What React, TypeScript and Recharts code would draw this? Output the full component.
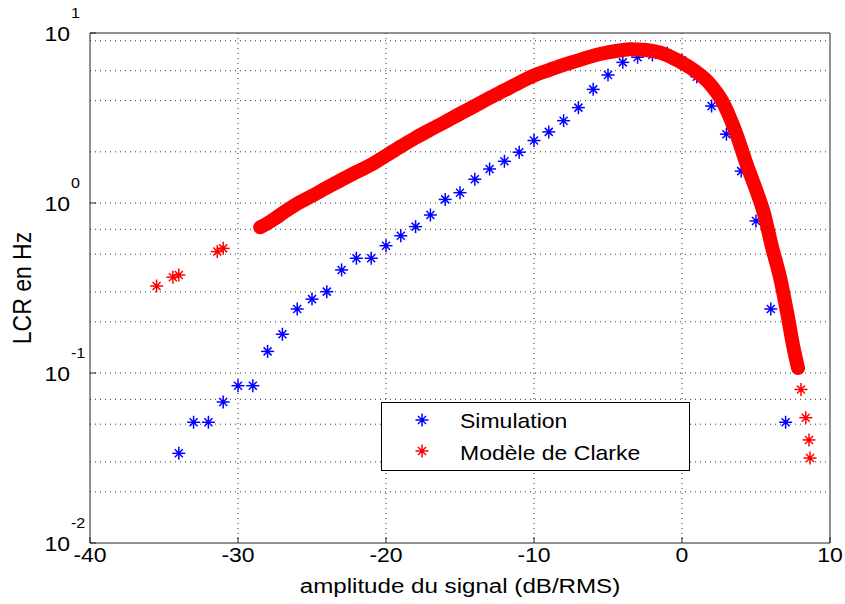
import React from 'react';
import { CartesianGrid, Scatter, ScatterChart, XAxis, YAxis, Label } from 'recharts';

// Simulation (blue stars), one point per dB step
const simulationX = [
  -34, -33, -32, -31, -30, -29, -28, -27, -26, -25, -24, -23, -22, -21, -20, -19, -18, -17, -16, -15, -14,
  -13, -12, -11, -10, -9, -8, -7, -6, -5, -4, -3, -2, -1, 0, 1, 2, 3, 4, 5, 6, 7,
];
const simulationY = [
  0.0337, 0.0513, 0.0513, 0.0675, 0.0842, 0.0842, 0.134, 0.169, 0.238, 0.272, 0.301, 0.404, 0.473, 0.473,
  0.561, 0.642, 0.726, 0.85, 1.05, 1.15, 1.38, 1.585, 1.76, 1.99, 2.33, 2.62, 3.05, 3.64, 4.66, 5.66, 6.72,
  7.2, 7.42, 7.6, 6.9, 5.53, 3.72, 2.54, 1.54, 0.784, 0.238, 0.0513,
];

// Modele de Clarke: isolated points at both ends
const clarkeSparseX = [-35.5, -34.4, -34.0, -31.4, -31.0, 8.04, 8.36, 8.58, 8.65];
const clarkeSparseY = [0.325, 0.366, 0.377, 0.518, 0.541, 0.08, 0.0546, 0.0404, 0.0316];

// Modele de Clarke: dense part (drawn as a thick band)
const clarkeDenseX = [
  -28.5, -28, -27.5, -27, -26.5, -26, -25, -24, -23, -22, -21, -20, -19, -18, -17, -16, -15, -14, -13, -12,
  -11, -10, -9, -8, -7, -6, -5, -4, -3.5, -3, -2, -1.5, -1, -0.14, 0.8, 1.9, 2.7, 3.6, 4.4, 5.0, 5.54, 6.06,
  6.66, 7.11, 7.52, 7.84,
];
const clarkeDenseY = [
  0.72, 0.76, 0.81, 0.87, 0.93, 0.99, 1.1, 1.23, 1.37, 1.52, 1.68, 1.9, 2.15, 2.42, 2.7, 3.0, 3.35, 3.72, 4.15,
  4.6, 5.1, 5.62, 6.05, 6.5, 6.9, 7.36, 7.7, 7.95, 8.02, 8.0, 7.85, 7.68, 7.4, 6.78, 6.05, 5.0, 4.0, 2.65, 1.66,
  1.2, 0.87, 0.56, 0.354, 0.225, 0.143, 0.107,
];

const xTicks = [-40, -30, -20, -10, 0, 10];
const yTicks = [0.01, 0.1, 1, 10];
const yExponents = ['-2', '-1', '0', '1'];
const gridX = [-30, -20, -10, 0];
const gridY = [
  0.02, 0.03, 0.04, 0.05, 0.06, 0.07, 0.08, 0.09, 0.1, 0.2, 0.3, 0.4, 0.5, 0.6, 0.7, 0.8, 0.9, 1, 2, 3, 4, 5,
  6, 7, 8, 9,
];

const toPoints = (xs: number[], ys: number[]) => xs.map((x, i) => ({ x, y: ys[i] }));

const FONT = '"Liberation Sans", Arial, Helvetica, sans-serif';
const STRETCH = 1.15;
const BLUE = '#0000ff';
const RED = '#ff0000';

const Asterisk = ({ cx, cy, color }: { cx: number; cy: number; color: string }) => {
  if (cx == null || cy == null) return null;
  const a = 6.5;
  const d = 4;
  return (
    <g stroke={color} strokeWidth={1.5}>
      <line x1={cx - a} y1={cy} x2={cx + a} y2={cy} />
      <line x1={cx} y1={cy - a} x2={cx} y2={cy + a} />
      <line x1={cx - d} y1={cy - d} x2={cx + d} y2={cy + d} />
      <line x1={cx - d} y1={cy + d} x2={cx + d} y2={cy - d} />
      <circle cx={cx} cy={cy} r={2} fill={color} stroke="none" />
    </g>
  );
};

const XTick = ({ x, y, payload }: any) => (
  <g transform={`translate(${x},${y}) scale(${STRETCH},1)`}>
    <text x={0} y={17} textAnchor="middle" fontFamily={FONT} fontSize={20} fill="#000">
      {payload.value}
    </text>
  </g>
);

const YTick = ({ x, y, payload }: any) => {
  const exp = yExponents[yTicks.indexOf(payload.value)];
  return (
    <g>
      <g transform={`translate(${x},${y}) scale(${STRETCH},1)`}>
        <text x={0} y={8} textAnchor="end" fontFamily={FONT} fontSize={20} fill="#000">
          10
        </text>
      </g>
      <g transform={`translate(${x + 1},${y}) scale(${STRETCH},1)`}>
        <text x={0} y={-15} textAnchor="start" fontFamily={FONT} fontSize={14} fill="#000">
          {exp}
        </text>
      </g>
    </g>
  );
};

const LegendBox = () => (
  <div style={{ position: 'absolute', left: 381, top: 402, width: 309, height: 69 }}>
    <svg width={309} height={69}>
      <rect x={0.5} y={0.5} width={308} height={68} fill="#fff" stroke="#000" strokeWidth={1} />
      <Asterisk cx={41} cy={18} color={BLUE} />
      <Asterisk cx={41} cy={49} color={RED} />
      <g transform={`translate(79,26) scale(${STRETCH},1)`}>
        <text fontFamily={FONT} fontSize={20} fill="#000">
          Simulation
        </text>
      </g>
      <g transform={`translate(79,58) scale(${STRETCH},1)`}>
        <text fontFamily={FONT} fontSize={20} fill="#000">
          Modèle de Clarke
        </text>
      </g>
    </svg>
  </div>
);

export default function App() {
  return (
    <div style={{ position: 'absolute', left: 0, top: 0, width: 845, height: 604, background: '#fff' }}>
      <ScatterChart width={845} height={604} margin={{ top: 32, right: 14, left: 0, bottom: 0 }}>
        <CartesianGrid
          xAxisId="bottom"
          yAxisId="left"
          horizontalValues={gridY}
          verticalValues={gridX}
          stroke="#333"
          strokeDasharray="1 4"
        />
        <XAxis
          xAxisId="bottom"
          type="number"
          dataKey="x"
          domain={[-40, 10]}
          ticks={xTicks}
          allowDataOverflow
          height={61}
          tickSize={-6}
          tickMargin={8}
          tick={<XTick />}
          stroke="#222"
        >
          <Label
            content={() => (
              <g transform={`translate(460,593) scale(${STRETCH},1)`}>
                <text textAnchor="middle" fontFamily={FONT} fontSize={21} fill="#000">
                  amplitude du signal (dB/RMS)
                </text>
              </g>
            )}
          />
        </XAxis>
        <XAxis
          xAxisId="top"
          orientation="top"
          type="number"
          domain={[-40, 10]}
          ticks={xTicks}
          allowDataOverflow
          height={1}
          tickSize={-6}
          tick={false}
          stroke="#222"
        />
        <YAxis
          yAxisId="left"
          type="number"
          dataKey="y"
          scale="log"
          domain={[0.01, 10]}
          ticks={yTicks}
          allowDataOverflow
          width={90}
          tickSize={-6}
          tickMargin={26}
          tick={<YTick />}
          stroke="#222"
        >
          <Label
            content={() => (
              <g transform="translate(31,288) rotate(-90) scale(1,1.12)">
                <text textAnchor="middle" fontFamily={FONT} fontSize={23} fill="#000">
                  LCR en Hz
                </text>
              </g>
            )}
          />
        </YAxis>
        <YAxis
          yAxisId="right"
          orientation="right"
          type="number"
          scale="log"
          domain={[0.01, 10]}
          ticks={yTicks}
          allowDataOverflow
          width={1}
          tickSize={-6}
          tick={false}
          stroke="#222"
        />
        <Scatter
          name="Simulation"
          xAxisId="bottom"
          yAxisId="left"
          data={toPoints(simulationX, simulationY)}
          shape={(p: any) => <Asterisk cx={p.cx} cy={p.cy} color={BLUE} />}
          isAnimationActive={false}
        />
        <Scatter
          name="Modèle de Clarke"
          xAxisId="bottom"
          yAxisId="left"
          data={toPoints(clarkeSparseX, clarkeSparseY)}
          shape={(p: any) => <Asterisk cx={p.cx} cy={p.cy} color={RED} />}
          isAnimationActive={false}
        />
        <Scatter
          xAxisId="bottom"
          yAxisId="left"
          data={toPoints(clarkeDenseX, clarkeDenseY)}
          line={{ stroke: RED, strokeWidth: 14, strokeLinejoin: 'round', strokeLinecap: 'round' }}
          lineType="joint"
          lineJointType="monotoneX"
          shape={(p: any) => <Asterisk cx={p.cx} cy={p.cy} color={RED} />}
          isAnimationActive={false}
        />
      </ScatterChart>
      <LegendBox />
    </div>
  );
}
